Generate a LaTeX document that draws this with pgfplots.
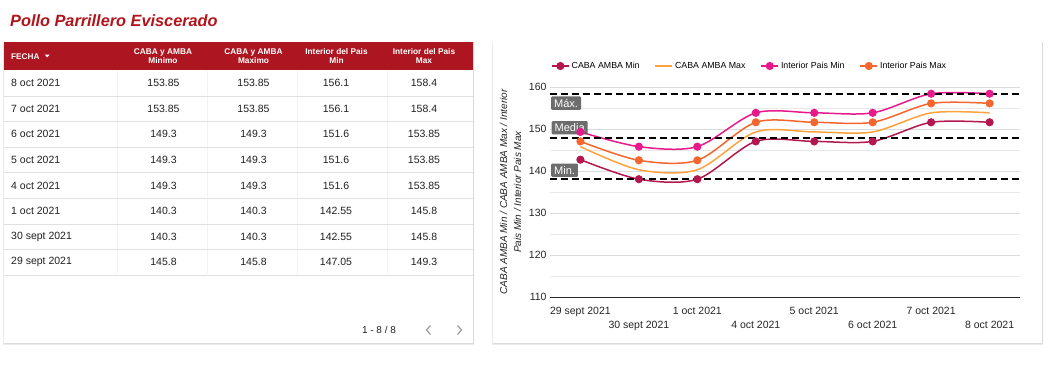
\documentclass[border=0pt]{standalone}
\usepackage{pgfplots}
\pgfplotsset{compat=1.18}
\usepackage{fontspec}
\setmainfont{Liberation Sans}
\definecolor{hdr}{HTML}{AD1621}
\definecolor{ttl}{HTML}{B3131B}
\definecolor{cmin}{HTML}{B3174F}
\definecolor{cmax}{HTML}{FFA23E}
\definecolor{imin}{HTML}{E8198B}
\definecolor{imax}{HTML}{F4662F}
\definecolor{lbl}{HTML}{616161}
\definecolor{txt}{HTML}{212121}

\pgfplotstableread{
x cmin cmax imin imax
0 142.7 145.8 149.3 147.05
1 138.05 140.3 145.8 142.55
2 138.05 140.3 145.8 142.55
3 147.05 149.3 153.85 151.6
4 147.05 149.3 153.85 151.6
5 147.05 149.3 153.85 151.6
6 151.6 153.85 158.4 156.1
7 151.6 153.85 158.4 156.1
}\chartdata

\begin{document}
\begin{tikzpicture}
\begin{scope}[x=1bp,y=-1bp]
\path[use as bounding box, fill=white] (0,0) rectangle (1049,370);
\node[anchor=base west, font=\fontsize{16.3bp}{18bp}\selectfont\bfseries\itshape, text=ttl, inner sep=0] at (10,26) {Pollo Parrillero Eviscerado};
% table card
\fill[black!8] (3,41.5) rectangle (474,345.2);
\fill[black!14] (3.5,41.8) rectangle (473.5,344.2);
\fill[white] (4,42) rectangle (473,343);
\fill[hdr] (4,42) rectangle (473,70);
\node[anchor=west, inner sep=0, text=white, font=\fontsize{8.2bp}{9.2bp}\selectfont\bfseries] at (11,56.5) {FECHA};
\fill[white] (44.8,54.6) -- (49.6,54.6) -- (47.2,57.4) -- cycle;
\foreach \cx/\ta/\tb in {163/CABA y AMBA/Minimo, 253.5/CABA y AMBA/Maximo, 336.5/Interior del Pais/Min, 424/Interior del Pais/Max}
  \node[align=center, inner sep=0, text=white, font=\fontsize{8.3bp}{9.2bp}\selectfont\bfseries] at (\cx,56) {\ta\\\tb};
\foreach \i in {0,...,7}{
  \draw[black!12, line width=0.9bp] (4,{96+25.6*\i}) -- (473,{96+25.6*\i});
  \foreach \vx in {117,207,297,387}
    \draw[black!5, line width=0.6bp] (\vx,{71+25.6*\i}) -- (\vx,{95+25.6*\i});
}
\foreach \i/\d/\a/\b/\c/\e in {0/8 oct 2021/153.85/153.85/156.1/158.4, 1/7 oct 2021/153.85/153.85/156.1/158.4, 2/6 oct 2021/149.3/149.3/151.6/153.85, 3/5 oct 2021/149.3/149.3/151.6/153.85, 4/4 oct 2021/149.3/149.3/151.6/153.85, 5/1 oct 2021/140.3/140.3/142.55/145.8, 6/30 sept 2021/140.3/140.3/142.55/145.8, 7/29 sept 2021/145.8/145.8/147.05/149.3}{
  \begin{scope}[every node/.style={inner sep=0, text=txt, font=\fontsize{10.5bp}{12bp}\selectfont}]
  \node[anchor=west] at (11,{83+25.6*\i}) {\d};
  \node at (163.5,{83+25.6*\i}) {\a};
  \node at (253.5,{83+25.6*\i}) {\b};
  \node at (336,{83+25.6*\i}) {\c};
  \node at (424,{83+25.6*\i}) {\e};
  \end{scope}
}
\node[inner sep=0, text=txt, font=\fontsize{10bp}{12bp}\selectfont] at (379,330) {1 - 8 / 8};
\draw[black!40, line width=1.1bp] (430.5,325.5) -- (426.5,330) -- (430.5,334.5);
\draw[black!40, line width=1.1bp] (457.5,325.5) -- (461.5,330) -- (457.5,334.5);
% chart card
\fill[black!8] (492,41.5) rectangle (1043,345.2);
\fill[black!14] (492.5,41.8) rectangle (1042.5,344.2);
\fill[white] (493,42) rectangle (1042,343);
\end{scope}

\begin{axis}[
  at={(550bp,-297bp)}, anchor=south west,
  scale only axis, width=470bp, height=210bp,
  xmin=-0.52, xmax=7.52, ymin=110, ymax=160,
  ytick={110,120,...,160}, minor ytick={115,125,...,155},
  ymajorgrids, yminorgrids,
  major grid style={black!14, line width=0.8bp},
  minor grid style={black!9, line width=0.8bp},
  axis lines*=left,
  y axis line style={draw=none},
  x axis line style={black!85, line width=0.9bp},
  major tick length=0pt, minor tick length=0pt,
  /pgf/number format/assume math mode=true,
  yticklabel style={font=\fontsize{10.5bp}{12bp}\selectfont, text=black!85},
  xtick={0,...,7},
  xticklabels={\strut 29 sept 2021,{\strut\\\strut 30 sept 2021},\strut 1 oct 2021,{\strut\\\strut 4 oct 2021},\strut 5 oct 2021,{\strut\\\strut 6 oct 2021},\strut 7 oct 2021,{\strut\\\strut 8 oct 2021}},
  xticklabel style={align=center, font=\fontsize{10.5bp}{14bp}\selectfont, text=black!85, anchor=north, yshift=-4.5bp},
  ylabel={CABA AMBA Min / CABA AMBA Max / Interior\\Pais Min / Interior Pais Max},
  ylabel style={align=center, font=\itshape\fontsize{10bp}{14bp}\selectfont, text=black!85, yshift=1bp},
  legend columns=4,
  legend style={at={(0.002,1.1)}, anchor=west, draw=none, fill=none, inner sep=0pt,
    font=\fontsize{8.8bp}{10bp}\selectfont,
    /tikz/every even column/.append style={column sep=13bp}},
  clip=false,
]
\addplot[cmin, line width=1.5bp, smooth, mark=*, mark size=3.3bp] table[x=x,y=cmin] {\chartdata};
\addlegendentry{CABA AMBA Min}
\addplot[cmax, line width=1.5bp, smooth] table[x=x,y=cmax] {\chartdata};
\addlegendentry{CABA AMBA Max}
\addplot[imin, line width=1.5bp, smooth, mark=*, mark size=3.3bp] table[x=x,y=imin] {\chartdata};
\addlegendentry{Interior Pais Min}
\addplot[imax, line width=1.5bp, smooth, mark=*, mark size=3.3bp] table[x=x,y=imax] {\chartdata};
\addlegendentry{Interior Pais Max}
\addplot[black, line width=1.6bp, dash pattern=on 7bp off 4bp, forget plot] coordinates {(-0.52,158.4) (7.52,158.4)};
\addplot[black, line width=1.5bp, dash pattern=on 7bp off 4bp, forget plot] coordinates {(-0.52,147.9) (7.52,147.9)};
\addplot[black, line width=1.5bp, dash pattern=on 7bp off 4bp, forget plot] coordinates {(-0.52,138.05) (7.52,138.05)};
\begin{scope}[every node/.style={fill=lbl, fill opacity=0.92, text opacity=1, text=white, font=\fontsize{11bp}{12bp}\selectfont, inner xsep=3bp, inner ysep=2.6bp, rounded corners=1bp}]
\node[anchor=north west, yshift=-2.5bp, xshift=1bp] at (axis cs:-0.52,158.4) {Máx.};
\node[anchor=south west, yshift=3.3bp, xshift=1.5bp] at (axis cs:-0.52,147.9) {Media};
\node[anchor=south west, yshift=2.2bp, xshift=1bp] at (axis cs:-0.52,138.05) {Min.};
\end{scope}
\end{axis}
\end{tikzpicture}
\end{document}
